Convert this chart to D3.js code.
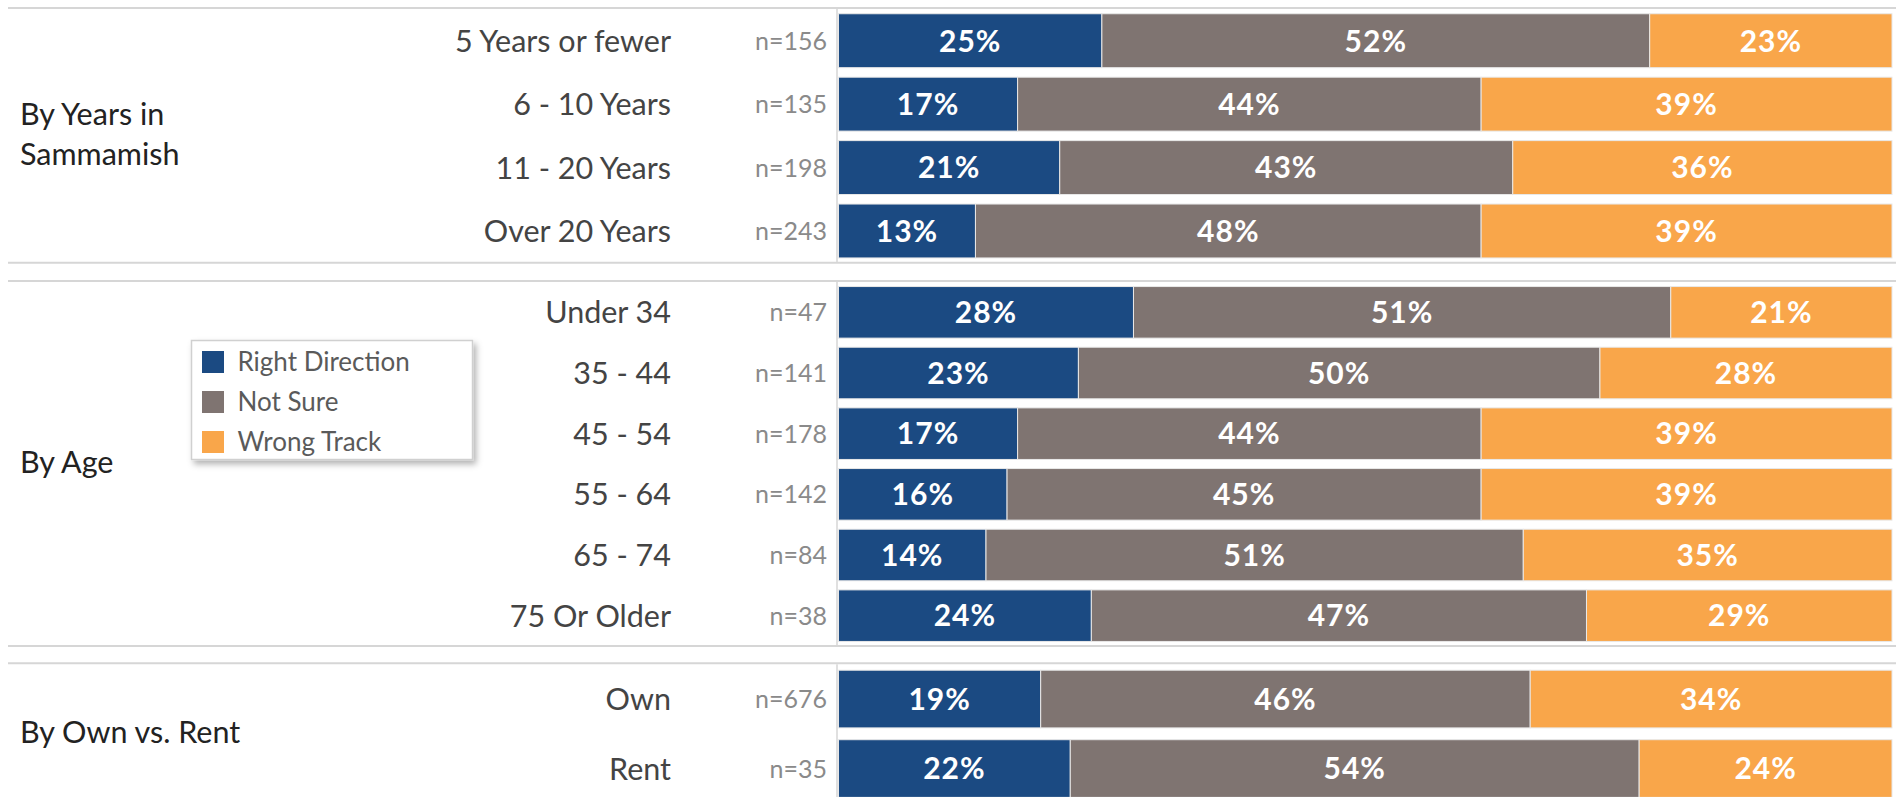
<!DOCTYPE html>
<html>
<head>
<meta charset="utf-8">
<script src="https://cdn.jsdelivr.net/npm/d3@7"></script>
<style>
  html, body { margin: 0; padding: 0; background: #fff; }
  svg { display: block; }
  text { font-family: Lato, "Open Sans", sans-serif; }
</style>
</head>
<body>
<svg id="chart" width="1896" height="797"></svg>
<script>
// ---------- DATA ----------
const seriesNames = ["Right Direction", "Not Sure", "Wrong Track"];
const seriesColors = ["#1b4a82", "#7f7471", "#f9a64a"];

const groupLabels = [["By Years in", "Sammamish"], ["By Age"], ["By Own vs. Rent"]];

const yearsCats = ["5 Years or fewer", "6 - 10 Years", "11 - 20 Years", "Over 20 Years"];
const yearsN = [156, 135, 198, 243];
const yearsRight = [25, 17, 21, 13];
const yearsNotSure = [52, 44, 43, 48];
const yearsWrong = [23, 39, 36, 39];

const ageCats = ["Under 34", "35 - 44", "45 - 54", "55 - 64", "65 - 74", "75 Or Older"];
const ageN = [47, 141, 178, 142, 84, 38];
const ageRight = [28, 23, 17, 16, 14, 24];
const ageNotSure = [51, 50, 44, 45, 51, 47];
const ageWrong = [21, 28, 39, 39, 35, 29];

const ownCats = ["Own", "Rent"];
const ownN = [676, 35];
const ownRight = [19, 22];
const ownNotSure = [46, 54];
const ownWrong = [34, 24];

// ---------- LAYOUT ----------
const W = 1896, H = 797;
const panels = [
  { cats: yearsCats, n: yearsN, vals: [yearsRight, yearsNotSure, yearsWrong], label: groupLabels[0], y0: 8, y1: 262.7, pad: 0.15 },
  { cats: ageCats, n: ageN, vals: [ageRight, ageNotSure, ageWrong], label: groupLabels[1], y0: 281, y1: 646, pad: 0.15 },
  { cats: ownCats, n: ownN, vals: [ownRight, ownNotSure, ownWrong], label: groupLabels[2], y0: 663.3, y1: 803.3, pad: 0.17 }
];

const svg = d3.select("#chart");
const x = d3.scaleLinear().domain([0, 1]).range([838.5, 1892]);
const color = d3.scaleOrdinal().domain(seriesNames).range(seriesColors);

const catRight = 671, nRight = 827, groupLeft = 20;
const lineColor = "#d6d6d6";

// separator lines
panels.forEach((p, pi) => {
  svg.append("line").attr("x1", 8).attr("x2", W).attr("y1", p.y0).attr("y2", p.y0)
    .attr("stroke", lineColor).attr("stroke-width", 2);
  if (pi < panels.length - 1) {
    svg.append("line").attr("x1", 8).attr("x2", W).attr("y1", p.y1).attr("y2", p.y1)
      .attr("stroke", lineColor).attr("stroke-width", 2);
  }
});

panels.forEach(p => {
  const rows = p.cats.map((c, i) => {
    const o = { cat: c, n: p.n[i] };
    seriesNames.forEach((s, si) => o[s] = p.vals[si][i]);
    return o;
  });
  const y = d3.scaleBand().domain(p.cats).range([p.y0 + 1, p.y1])
    .paddingInner(p.pad).paddingOuter(p.pad / 2);

  // vertical axis line
  svg.append("line").attr("x1", 837).attr("x2", 837)
    .attr("y1", p.y0 + 1).attr("y2", Math.min(p.y1, H))
    .attr("stroke", lineColor).attr("stroke-width", 1.5);

  const stack = d3.stack().keys(seriesNames).offset(d3.stackOffsetExpand);
  const series = stack(rows);

  const g = svg.append("g");
  series.forEach(s => {
    g.selectAll(null).data(s).enter().append("rect")
      .attr("x", d => x(d[0]))
      .attr("y", d => y(d.data.cat))
      .attr("width", d => x(d[1]) - x(d[0]))
      .attr("height", y.bandwidth())
      .attr("fill", color(s.key))
      .attr("stroke", "#e8e8e8").attr("stroke-width", 1);
    g.selectAll(null).data(s).enter().append("text")
      .attr("x", d => (x(d[0]) + x(d[1])) / 2)
      .attr("y", d => y(d.data.cat) + y.bandwidth() / 2)
      .attr("dy", "0.36em")
      .attr("text-anchor", "middle")
      .attr("fill", "#fff")
      .attr("font-weight", "bold")
      .attr("font-size", 30)
      .attr("letter-spacing", 1)
      .text(d => d.data[s.key] + "%");
  });

  // category labels
  svg.append("g").selectAll("text").data(rows).enter().append("text")
    .attr("x", catRight).attr("y", d => y(d.cat) + y.bandwidth() / 2)
    .attr("dy", "0.36em").attr("text-anchor", "end")
    .attr("fill", "#444").attr("font-size", 30.5)
    .text(d => d.cat);

  // n labels
  svg.append("g").selectAll("text").data(rows).enter().append("text")
    .attr("x", nRight).attr("y", d => y(d.cat) + y.bandwidth() / 2)
    .attr("dy", "0.36em").attr("text-anchor", "end")
    .attr("fill", "#8a8a8a").attr("font-size", 25)
    .text(d => "n=" + d.n);

  // group label
  const cy = (p.y0 + p.y1) / 2;
  const lh = 40;
  svg.append("g").selectAll("text").data(p.label).enter().append("text")
    .attr("x", groupLeft)
    .attr("y", (d, i) => cy + (i - (p.label.length - 1) / 2) * lh - 1)
    .attr("dy", "0.36em")
    .attr("fill", "#222").attr("font-size", 30.5)
    .text(d => d);
});

// ---------- LEGEND ----------
const defs = svg.append("defs");
const f = defs.append("filter").attr("id", "shadow").attr("x", "-10%").attr("y", "-10%").attr("width", "130%").attr("height", "140%");
f.append("feDropShadow").attr("dx", 3).attr("dy", 4).attr("stdDeviation", 3).attr("flood-color", "#000").attr("flood-opacity", 0.3);

const lg = svg.append("g").attr("transform", "translate(191.5,340.5)");
lg.append("rect").attr("width", 281).attr("height", 119)
  .attr("fill", "#fff").attr("stroke", "#d0d0d0").attr("stroke-width", 1.5)
  .attr("filter", "url(#shadow)");
const li = lg.selectAll("g.item").data(seriesNames).enter().append("g")
  .attr("transform", (d, i) => `translate(10.5,${10.5 + i * 40})`);
li.append("rect").attr("width", 22).attr("height", 22).attr("fill", d => color(d));
li.append("text").attr("x", 35.5).attr("y", 11).attr("dy", "0.36em")
  .attr("fill", "#5a5a5a").attr("font-size", 26).text(d => d);
</script>
</body>
</html>
